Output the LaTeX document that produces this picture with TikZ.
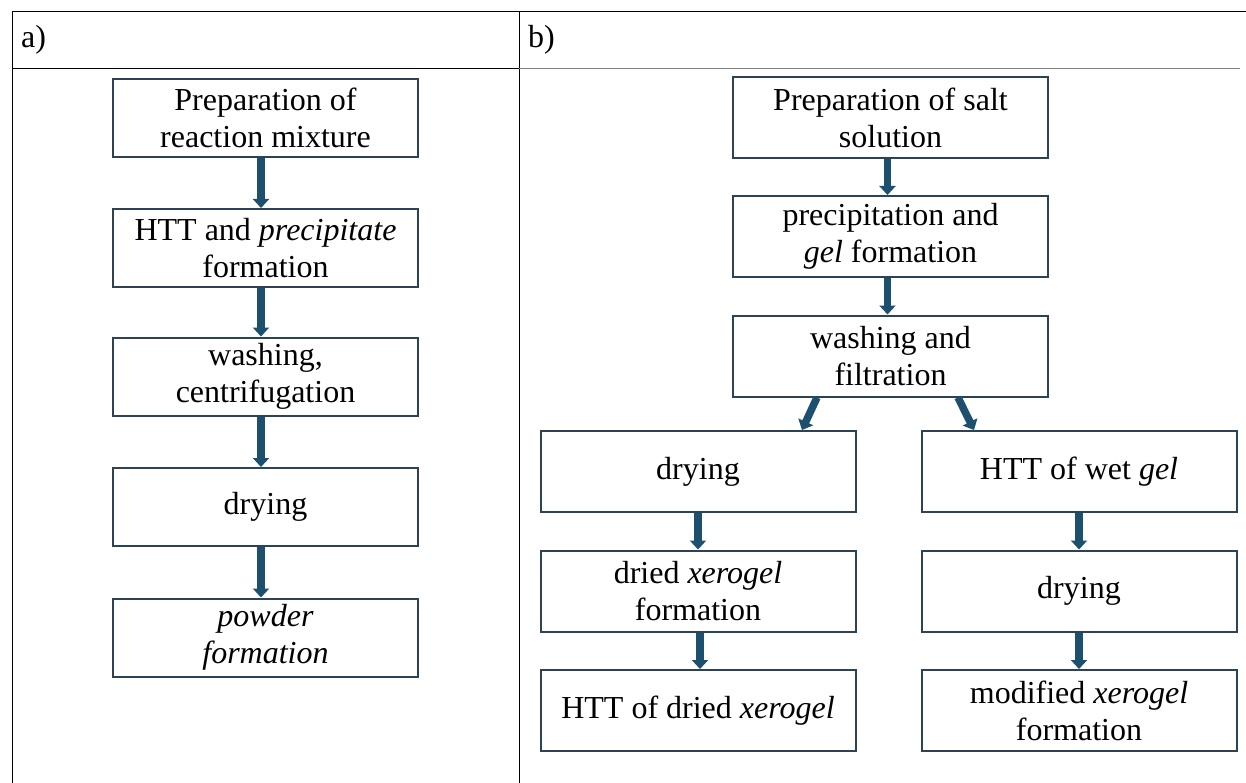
\documentclass[tikz,border=0pt]{standalone}
\usepackage{fontspec}
\setmainfont{Liberation Serif}
\usetikzlibrary{arrows.meta,calc}
\definecolor{boxline}{HTML}{2B4355}
\definecolor{arrowfill}{HTML}{1D4F6E}
\begin{document}
\begin{tikzpicture}[x=1pt,y=-1pt,
  stepbox/.style={draw=boxline,line width=2pt,minimum width=305pt,minimum height=78pt,align=center,font=\fontsize{32}{37}\selectfont,inner sep=0pt},
  widebox/.style={stepbox,minimum width=315pt,minimum height=81pt},
  flow/.style={draw=arrowfill,line width=7.5pt,-{Triangle[length=9pt,width=16pt]}}
  ]
\useasboundingbox (0,0) rectangle (1246,783);
% table
\draw[line width=1pt] (12,12) -- (1246,12);
\draw[line width=1pt] (12,12) -- (12,783);
\draw[line width=1pt] (519,12) -- (519,783);
\draw[line width=1pt] (12,69) -- (519,69);
\draw[line width=1pt,gray] (519,69) -- (1240,69);
\node[font=\fontsize{32}{37}\selectfont,anchor=west,inner sep=0pt] (la) at (21,40) {a)};
\node[font=\fontsize{32}{37}\selectfont,anchor=west,inner sep=0pt] (lb) at (528,40) {b)};
% column a
\node[stepbox] (a1) at (265.5,118) {Preparation of\\reaction mixture};
\node[stepbox] (a2) at (265.5,248) {HTT and \textit{precipitate}\\formation};
\node[stepbox] (a3) at (265.5,376.5) {washing,\\centrifugation};
\node[stepbox] (a4) at (265.5,507) {drying};
\node[stepbox] (a5) at (265.5,637.5) {\textit{powder}\\\textit{formation}};
\foreach \s/\t in {a1/a2,a2/a3,a3/a4,a4/a5}{
  \draw[flow] ($(\s.south)+(-4.5,0)$) -- ($(\t.north)+(-4.5,0)$);
}
% column b
\node[widebox] (b1) at (890.5,118) {Preparation of salt\\solution};
\node[widebox] (b2) at (890.5,236.5) {precipitation and\\\textit{gel} formation};
\node[widebox] (b3) at (890.5,356) {washing and\\filtration};
\node[widebox] (b4) at (698,471.5) {drying};
\node[widebox] (b5) at (1079,471.5) {HTT of wet \textit{gel}};
\node[widebox] (b6) at (698,591) {dried \textit{xerogel}\\formation};
\node[widebox] (b7) at (1079,591) {drying};
\node[widebox] (b8) at (698,710.5) {HTT of dried \textit{xerogel}};
\node[widebox] (b9) at (1079,710.5) {modified \textit{xerogel}\\formation};
\draw[flow] ($(b1.south)+(-3,0)$) -- ($(b2.north)+(-3,0)$);
\draw[flow] ($(b2.south)+(-3,0)$) -- ($(b3.north)+(-3,0)$);
\draw[flow] ($(b3.south)+(-73.5,0)$) -- ($(b4.north)+(104,0)$);
\draw[flow] ($(b3.south)+(67.5,0)$) -- ($(b5.north)+(-105,0)$);
\draw[flow] (b4.south) -- (b6.north);
\draw[flow] ($(b6.south)+(2,0)$) -- ($(b8.north)+(2,0)$);
\draw[flow] (b5.south) -- (b7.north);
\draw[flow] (b7.south) -- (b9.north);
\end{tikzpicture}
\end{document}
